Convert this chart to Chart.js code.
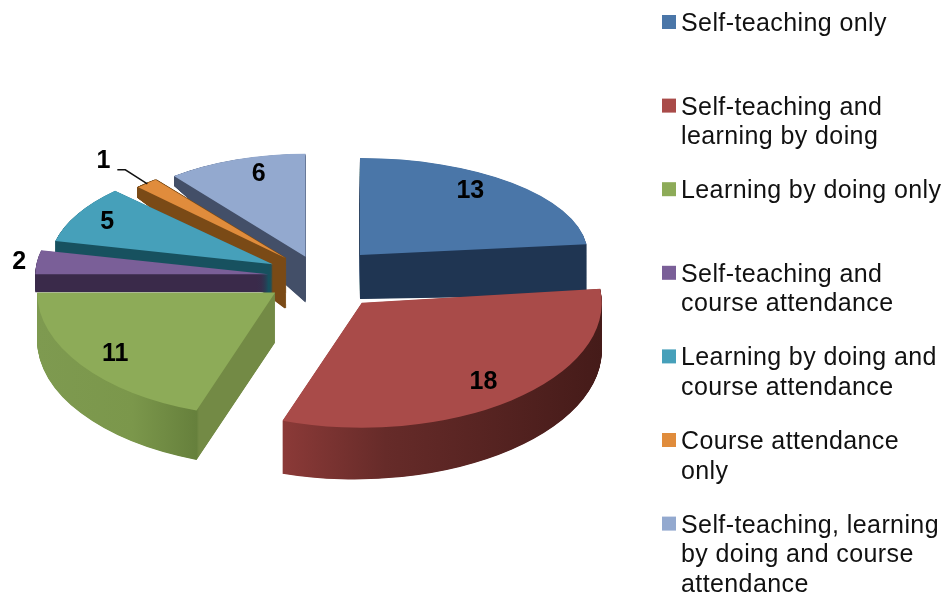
<!DOCTYPE html>
<html>
<head>
<meta charset="utf-8">
<style>html,body{margin:0;padding:0;background:#fff}#w{position:relative;width:942px;height:596px}</style>
<script src="https://cdn.jsdelivr.net/npm/chart.js@4"></script>
</head>
<body>
<div id="w"><canvas id="c" width="942" height="596"></canvas></div>
<script>
const categories = ["Self-teaching only","Self-teaching and learning by doing","Learning by doing only","Self-teaching and course attendance","Learning by doing and course attendance","Course attendance only","Self-teaching, learning by doing and course attendance"];
const values = [13,18,11,2,5,1,6];
const legendLines = [["Self-teaching only"],["Self-teaching and","learning by doing"],["Learning by doing only"],["Self-teaching and","course attendance"],["Learning by doing and","course attendance"],["Course attendance","only"],["Self-teaching, learning","by doing and course","attendance"]];
const topColors = ["#4a76a8","#a94b49","#8dab58","#7a5f98","#46a0ba","#e08c3c","#93a9cf"];
// styling of the pseudo-3D look
const explode = [60,67,55,52,54,52,44];
const radiusX = [228,240,238,233,223,208,211];
const radiusY = [97,125,125,107,104,100,103];
const wallDepth = [[362,44,588,51],[281,53,597,48],[40,48,275,50],[35,18,268,18],[55,12,273,30],[137,10,285,50],[175,10,306,46]];
const wallEdge = [0,0,0,0,0,3,0];
const wallStops = [
  [[0,"#1f3552"],[1,"#1f3552"]],
  [[0,"#8c3a38"],[0.33,"#8c3a38"],[0.55,"#662b29"],[1,"#451b19"]],
  [[0,"#7e9a50"],[0.2,"#7b974b"],[0.335,"#66803c"],[0.34,"#738a45"],[1,"#738a45"]],
  [[0,"#3a2a4a"],[1,"#3a2a4a"]],
  [[0,"#17515f"],[1,"#17515f"]],
  [[0,"#7a4a16"],[1,"#7a4a16"]],
  [[0,"#434f68"],[1,"#434f68"]]
];
const drawOrder = [6,5,4,3,2,0,1];
const labelNudge = [[4,-13],[17,11],[-24,11],[-87,-4],[-29,-7],[-85,-45],[2,-14]];
const squash = 0.49;

function slicePlace(el,i){
  const a=(el.startAngle+el.endAngle)/2, d=(explode[i]);
  return {a, x:el.x+Math.cos(a)*d, y:el.y+Math.sin(a)*d*squash};
}
const pie3d = {
  id:'pie3d',
  beforeDatasetsDraw(chart){
    const ctx=chart.ctx, meta=chart.getDatasetMeta(0);
    drawOrder.forEach(i=>{
      const el=meta.data[i], R=el.outerRadius, p=slicePlace(el,i);
      const base=Object.assign({},el.options,{offset:0,borderWidth:0});
      const g=ctx.createLinearGradient(el.x-R,0,el.x+R,0);
      wallStops[i].forEach(s=>g.addColorStop(s[0],s[1]));
      const [x0,d0,x1,d1]=wallDepth[i];
      const k=(d1-d0)/(x1-x0);
      const paint=(t,color,edge)=>{
        el.options=Object.assign({},base,{backgroundColor:color,borderColor:color,borderWidth:edge});
        ctx.save();
        ctx.transform(1,k*t,0,1,0,t*(d0-k*x0));
        ctx.translate(p.x,p.y);
        ctx.scale(radiusX[i]/R,radiusY[i]/R);
        ctx.translate(-el.x,-el.y);
        el.draw(ctx);
        ctx.restore();
      };
      const steps=Math.ceil(Math.max(d0,d1)*2);
      for(let s=steps;s>0;s--) paint(s/steps,g,wallEdge[i]);
      paint(0,topColors[i],0);
    });
    return false;
  },
  afterDraw(chart){
    const ctx=chart.ctx, meta=chart.getDatasetMeta(0);
    ctx.save();
    ctx.fillStyle='#000';
    ctx.font='bold 25px "Liberation Sans"';
    ctx.textAlign='center';ctx.textBaseline='middle';
    meta.data.forEach((el,i)=>{
      const p=slicePlace(el,i);
      const lx=p.x+Math.cos(p.a)*radiusX[i]*0.7+labelNudge[i][0];
      const ly=p.y+Math.sin(p.a)*radiusY[i]*0.7+labelNudge[i][1];
      ctx.fillText(String(values[i]),lx,ly);
      if(values[i]===1){
        ctx.strokeStyle='#111';ctx.lineWidth=1.4;
        ctx.beginPath();ctx.moveTo(lx+14,ly+9);ctx.lineTo(lx+22,ly+9);ctx.lineTo(lx+44,ly+23);ctx.stroke();
      }
    });
    ctx.restore();
    // legend
    ctx.save();
    const lh=29.5,pitch=83.6;
    ctx.font='25px "Liberation Sans"';
    ctx.letterSpacing='0.4px';
    ctx.textAlign='left';ctx.textBaseline='alphabetic';
    legendLines.forEach((lines,i)=>{
      const b=31+i*pitch;
      ctx.fillStyle=topColors[i];
      ctx.fillRect(662,b-16,14,14);
      ctx.fillStyle='#111';
      lines.forEach((t,j)=>ctx.fillText(t,681,b+j*lh));
    });
    ctx.restore();
  }
};
new Chart(document.getElementById('c'),{
  type:'pie',
  data:{labels:categories,datasets:[{data:values,backgroundColor:topColors,borderWidth:0,offset:explode.map(d=>d*4)}]},
  options:{
    responsive:false,animation:false,radius:240,
    layout:{padding:{right:302,bottom:42}},
    plugins:{legend:{display:false},tooltip:{enabled:false}}
  },
  plugins:[pie3d]
});
</script>
</body>
</html>
